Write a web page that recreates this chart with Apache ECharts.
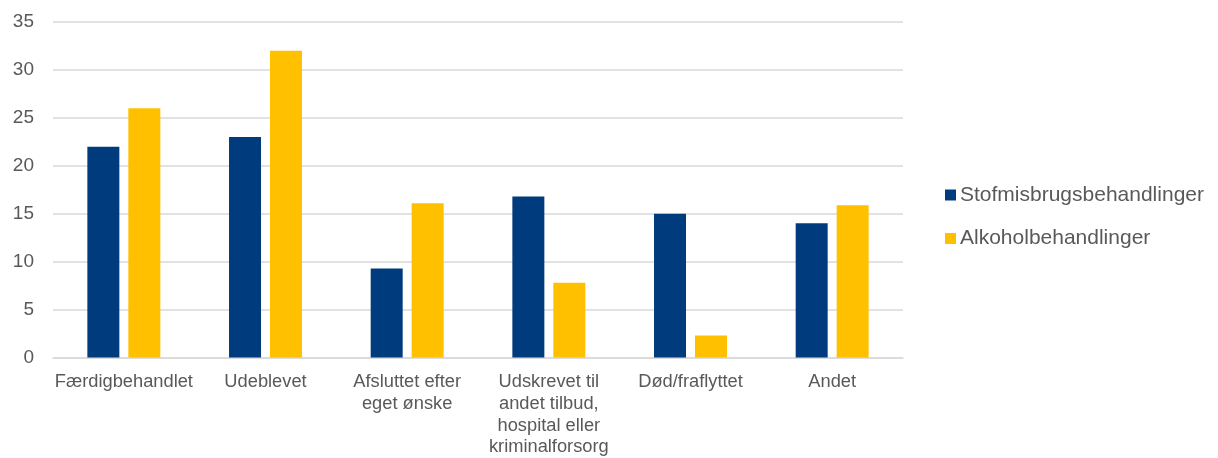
<!DOCTYPE html>
<html>
<head>
<meta charset="utf-8">
<style>
  html, body { margin: 0; padding: 0; background: #ffffff; }
  #chart { width: 1218px; height: 458px; }
</style>
<script src="https://cdn.jsdelivr.net/npm/echarts@6/dist/echarts.min.js"></script>
</head>
<body>
<div id="chart"></div>
<script>
// Årsager til afslutning af behandling (pct.)
const categories = [
  'Færdigbehandlet',
  'Udeblevet',
  'Afsluttet efter\neget ønske',
  'Udskrevet til\nandet tilbud,\nhospital eller\nkriminalforsorg',
  'Død/fraflyttet',
  'Andet'
];
const seriesNames = ['Stofmisbrugsbehandlinger', 'Alkoholbehandlinger'];
const stofValues = [22, 23, 9.3, 16.8, 15, 14];
const alkoholValues = [26, 32, 16.1, 7.8, 2.3, 15.9];
const yTicks = { min: 0, max: 35, interval: 5 };

const textColor = '#595959';
const gridColor = '#d9d9d9';
const fontFamily = '"Liberation Sans", Arial, sans-serif';

const chart = echarts.init(document.getElementById('chart'), null, { renderer: 'canvas' });

chart.setOption({
  animation: false,
  textStyle: { fontFamily: fontFamily },
  grid: { left: 53, right: 315, top: 22, bottom: 95.5, containLabel: false },
  legend: {
    orient: 'vertical',
    left: 940,
    top: 179,
    itemWidth: 11,
    itemHeight: 11,
    itemGap: 21.5,
    icon: 'rect',
    textStyle: { fontSize: 21, color: textColor, padding: [0, 0, 0, -1], lineHeight: 22, fontFamily: fontFamily },
    data: seriesNames
  },
  xAxis: {
    type: 'category',
    data: categories,
    axisLine: { show: true, lineStyle: { color: gridColor, width: 1.5 } },
    axisTick: { show: false },
    axisLabel: {
      interval: 0,
      margin: 14,
      fontSize: 18.3,
      lineHeight: 21.6,
      color: textColor,
      align: 'center',
      fontFamily: fontFamily
    }
  },
  yAxis: {
    type: 'value',
    min: yTicks.min,
    max: yTicks.max,
    interval: yTicks.interval,
    axisLine: { show: false },
    axisTick: { show: false },
    splitLine: { lineStyle: { color: gridColor, width: 1.5 } },
    axisLabel: { fontSize: 19, color: textColor, margin: 19, fontFamily: fontFamily }
  },
  series: [
    {
      name: seriesNames[0],
      type: 'bar',
      data: stofValues,
      barWidth: 32,
      barGap: '28%',
      itemStyle: { color: '#003c7d' }
    },
    {
      name: seriesNames[1],
      type: 'bar',
      data: alkoholValues,
      barWidth: 32,
      itemStyle: { color: '#ffc000' }
    }
  ]
});
</script>
</body>
</html>
